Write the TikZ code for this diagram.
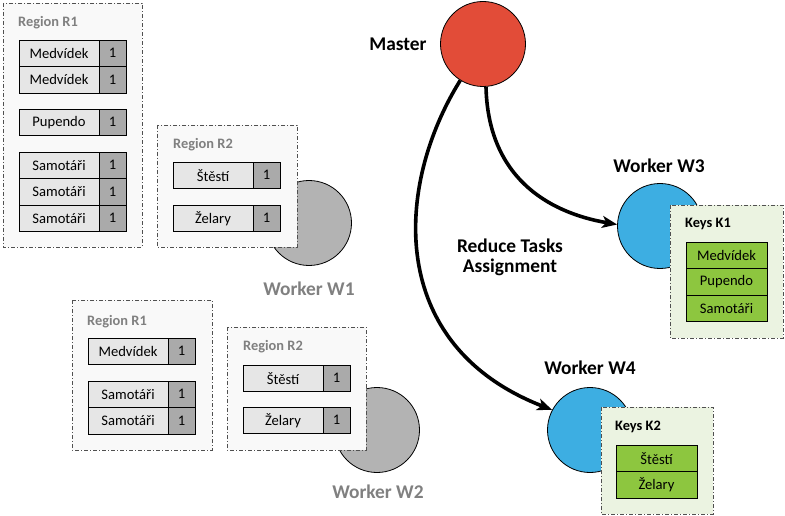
\documentclass[tikz,border=0pt]{standalone}
\usepackage{fontspec}
\setmainfont{Carlito}
\usetikzlibrary{arrows.meta}

\definecolor{masterred}{RGB}{226,76,56}
\definecolor{workerblue}{RGB}{61,174,226}
\definecolor{workergray}{RGB}{179,179,179}
\definecolor{regionfill}{RGB}{249,249,249}
\definecolor{keysfill}{RGB}{235,243,225}
\definecolor{keygreen}{RGB}{141,198,63}
\definecolor{celllight}{RGB}{230,230,230}
\definecolor{celldark}{RGB}{170,170,170}
\definecolor{labelgray}{RGB}{128,128,128}
\definecolor{framegray}{RGB}{80,80,80}

\tikzset{
  region/.style={draw=framegray, line width=0.9pt, dash pattern=on 4pt off 2pt on 1pt off 2pt},
  word/.style={draw, line width=0.8pt, fill=celllight, minimum width=80pt, minimum height=26.5pt,
    inner sep=0pt, outer sep=0pt, font=\fontsize{14.6}{16}\selectfont},
  count/.style={word, fill=celldark, minimum width=27pt},
  key/.style={word, fill=keygreen, minimum width=81pt},
  worker/.style={circle, draw, line width=0.8pt, minimum size=85pt, inner sep=0pt},
  title/.style={font=\fontsize{19.4}{20}\selectfont\bfseries, inner sep=0pt},
  boxtitle/.style={font=\fontsize{14.4}{16}\selectfont\bfseries, inner sep=0pt, anchor=west},
  assign/.style={line width=3.6pt, -{Stealth[length=15pt,width=12pt,inset=4pt]}}
}

\begin{document}
\begin{tikzpicture}[x=1pt,y=-1pt]
\useasboundingbox (0,0) rectangle (785,516);

% workers
\node[worker, fill=masterred] (master) at (483,44) {};
\node[worker, fill=workergray] (w1) at (309,223) {};
\node[worker, fill=workergray] (w2) at (377,430) {};
\node[worker, fill=workerblue] (w3) at (660,226) {};
\node[worker, fill=workerblue] (w4) at (590,430) {};

\node[title] (mastertext) at (398,44) {Master};
\node[title, text=labelgray] (w1text) at (309,289) {Worker W1};
\node[title, text=labelgray] (w2text) at (378,492) {Worker W2};
\node[title] (w3text) at (659,166) {Worker W3};
\node[title] (w4text) at (590,368) {Worker W4};

% map output of W1
\draw[region, fill=regionfill] (3,3) rectangle (142,247);
\node[boxtitle, text=labelgray] (r1title) at (18,23) {Region R1};
\node[word, anchor=north west] (a1) at (19,40) {Medvídek};
\node[count, anchor=west] (a1n) at (a1.east) {1};
\node[word, anchor=north] (a2) at (a1.south) {Medvídek};
\node[count, anchor=west] (a2n) at (a2.east) {1};
\node[word, anchor=north west] (a3) at (19,109) {Pupendo};
\node[count, anchor=west] (a3n) at (a3.east) {1};
\node[word, anchor=north west] (a4) at (19,152) {Samotáři};
\node[count, anchor=west] (a4n) at (a4.east) {1};
\node[word, anchor=north] (a5) at (a4.south) {Samotáři};
\node[count, anchor=west] (a5n) at (a5.east) {1};
\node[word, anchor=north] (a6) at (a5.south) {Samotáři};
\node[count, anchor=west] (a6n) at (a6.east) {1};

\draw[region, fill=regionfill] (157,125) rectangle (297,247);
\node[boxtitle, text=labelgray] (r2title) at (173,145) {Region R2};
\node[word, anchor=north west] (b1) at (173,162) {Štěstí};
\node[count, anchor=west] (b1n) at (b1.east) {1};
\node[word, anchor=north west] (b2) at (173,205) {Želary};
\node[count, anchor=west] (b2n) at (b2.east) {1};

% map output of W2
\draw[region, fill=regionfill] (72,300) rectangle (212,450);
\node[boxtitle, text=labelgray] (r3title) at (87,322) {Region R1};
\node[word, anchor=north west] (c1) at (88,338) {Medvídek};
\node[count, anchor=west] (c1n) at (c1.east) {1};
\node[word, anchor=north west] (c2) at (88,381) {Samotáři};
\node[count, anchor=west] (c2n) at (c2.east) {1};
\node[word, anchor=north] (c3) at (c2.south) {Samotáři};
\node[count, anchor=west] (c3n) at (c3.east) {1};

\draw[region, fill=regionfill] (227,327) rectangle (366,450);
\node[boxtitle, text=labelgray] (r4title) at (243,347) {Region R2};
\node[word, anchor=north west] (d1) at (243,365) {Štěstí};
\node[count, anchor=west] (d1n) at (d1.east) {1};
\node[word, anchor=north west] (d2) at (243,407) {Želary};
\node[count, anchor=west] (d2n) at (d2.east) {1};

% reduce keys
\draw[region, fill=keysfill] (670,205) rectangle (783,338);
\node[boxtitle] (k1title) at (685,224) {Keys K1};
\node[key, anchor=north west] (e1) at (686,242) {Medvídek};
\node[key, anchor=north] (e2) at (e1.south) {Pupendo};
\node[key, anchor=north] (e3) at (e2.south) {Samotáři};

\draw[region, fill=keysfill] (601,407) rectangle (713,514);
\node[boxtitle] (k2title) at (615,427) {Keys K2};
\node[key, anchor=north west] (f1) at (616,445) {Štěstí};
\node[key, anchor=north] (f2) at (f1.south) {Želary};

% assignment
\draw[assign] (master.-86) .. controls (488,175) and (545,212) .. (w3.178);
\draw[assign] (master.-122) .. controls (395,185) and (385,345) .. (w4.152);
\node[title, align=center] (assigntext) at (510,257) {Reduce Tasks\\Assignment};

\end{tikzpicture}
\end{document}
